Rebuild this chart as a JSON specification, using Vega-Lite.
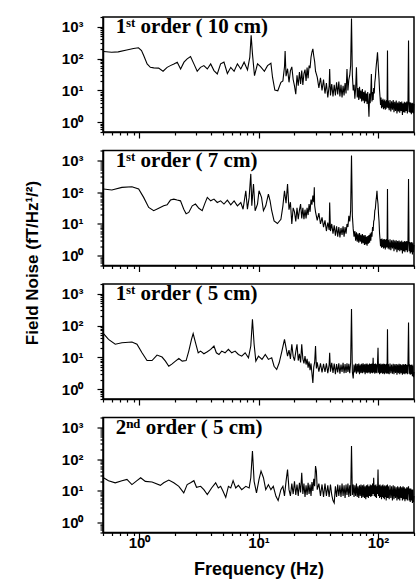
{
"$schema": "https://vega.github.io/schema/vega-lite/v6.json",
"padding": {"left": 22, "top": 9, "right": 3, "bottom": 5},
"background": "white",
"bounds": "flush",
"spacing": 18.5,
"config": {
  "view": {"stroke": "black", "strokeWidth": 1.5},
  "axis": {"domainColor": "black", "domainWidth": 1.5, "tickColor": "black", "tickWidth": 1.2, "labelFont": "Liberation Sans", "labelFontWeight": "bold", "labelFontSize": 15, "labelColor": "black", "titleFont": "Liberation Sans", "titleFontWeight": "bold", "titleColor": "black", "grid": false, "labelOverlap": false, "labelFlush": false},
  "line": {"color": "black", "strokeWidth": 1.1, "clip": true}
},
"datasets": {
"a": [
{"f":0.505,"v":166},{"f":0.59,"v":158},{"f":0.67,"v":162},{"f":0.79,"v":185},{"f":0.9,"v":207},{"f":0.99,"v":217},{"f":1.05,"v":179},{"f":1.095,"v":124},{"f":1.17,"v":68},{"f":1.245,"v":53},{"f":1.33,"v":51},{"f":1.46,"v":50},{"f":1.59,"v":40},{"f":1.72,"v":53},{"f":1.83,"v":60},{"f":1.96,"v":68},{"f":2.09,"v":77},{"f":2.23,"v":47},{"f":2.38,"v":77},{"f":2.53,"v":98},{"f":2.7,"v":116},{"f":2.88,"v":68},{"f":3.07,"v":40},{"f":3.27,"v":53},{"f":3.49,"v":60},{"f":3.73,"v":47},{"f":3.98,"v":68},{"f":4.24,"v":42},{"f":4.52,"v":33},{"f":4.82,"v":68},{"f":5.14,"v":77},{"f":5.49,"v":34},{"f":5.86,"v":53},{"f":6.25,"v":40},{"f":6.66,"v":68},{"f":7.11,"v":47},{"f":7.58,"v":77},{"f":8.09,"v":44},{"f":8.46,"v":110},{"f":8.68,"v":532},{"f":8.9,"v":140},{"f":9.26,"v":29},{"f":9.81,"v":68},{"f":10.4,"v":56},{"f":11.2,"v":40},{"f":11.9,"v":60},{"f":12.7,"v":71},{"f":13.1,"v":26},{"f":13.7,"v":10.3},{"f":14.5,"v":9.8},{"f":15.4,"v":18},
{"f":16,"v":20},{"f":16.5,"v":55},{"f":16.7,"v":171},{"f":17,"v":28},{"f":17.5,"v":48},{"f":18,"v":18},{"f":18.5,"v":42},{"f":19,"v":55},{"f":19.5,"v":22},{"f":20,"v":14},{"f":20.5,"v":7.6},{"f":21,"v":30},{"f":21.5,"v":14},{"f":22,"v":38},{"f":22.5,"v":16},{"f":23,"v":42},{"f":23.5,"v":15},{"f":24,"v":34},{"f":24.5,"v":45},{"f":25,"v":20},{"f":25.5,"v":52},{"f":26,"v":24},{"f":26.5,"v":60},{"f":27,"v":50},{"f":27.5,"v":110},{"f":28,"v":160},{"f":28.5,"v":202},{"f":29,"v":120},{"f":29.5,"v":80},{"f":30,"v":40},{"f":31,"v":26},{"f":32,"v":12},{"f":33,"v":25},{"f":34,"v":10},{"f":35,"v":22},{"f":36,"v":8},{"f":37,"v":17},{"f":38,"v":6},{"f":39,"v":14},{"f":39.4,"v":47},{"f":40,"v":7},{"f":41,"v":16},{"f":42,"v":6.5},{"f":43,"v":15},{"f":44,"v":7},{"f":45,"v":18},{"f":46,"v":7.5},{"f":47,"v":19},{"f":48,"v":6.5},{"f":49,"v":15},{"f":50,"v":6},{"f":51,"v":14},{"f":52,"v":7},{"f":53,"v":17},{"f":54,"v":8},{"f":55,"v":47},{"f":56,"v":10},{"f":57,"v":22},{"f":58,"v":30},{"f":59,"v":60},{"f":60,"v":1790},{"f":61,"v":30},{"f":62,"v":10},{"f":63,"v":15},{"f":64,"v":5.5},{"f":65,"v":12},{"f":66,"v":53},{"f":67,"v":6},{"f":68,"v":12},{"f":69,"v":5},{"f":70,"v":13},{"f":71,"v":5.5},{"f":72,"v":10},{"f":73,"v":4.5},{"f":74,"v":11},{"f":75,"v":4.8},{"f":76,"v":9},{"f":77,"v":4},{"f":78,"v":10},{"f":79,"v":4.5},{"f":80,"v":8},{"f":81,"v":3.8},{"f":82,"v":9},{"f":83,"v":4},{"f":84,"v":1.5},{"f":85,"v":8},{"f":86,"v":4},{"f":87,"v":9},{"f":88,"v":33},{"f":89,"v":4.5},{"f":90,"v":9},{"f":91,"v":5},{"f":92,"v":12},{"f":93,"v":8},{"f":94,"v":18},{"f":95,"v":25},{"f":96,"v":45},{"f":97,"v":70},{"f":98,"v":100},{"f":99,"v":158},{"f":100,"v":80},{"f":101,"v":40},{"f":102,"v":22},{"f":103,"v":10},{"f":104,"v":6},{"f":105,"v":3.5},{"f":106,"v":6},{"f":107,"v":2.8},{"f":108,"v":5},{"f":109,"v":3},{"f":110,"v":5.5},{"f":111,"v":2.6},{"f":112,"v":4.8},{"f":113,"v":2.8},{"f":114,"v":5.2},{"f":115,"v":2.5},{"f":116,"v":4.6},{"f":117,"v":2.7},{"f":118,"v":5},{"f":119,"v":3},{"f":120,"v":179},{"f":121,"v":2.8},{"f":122,"v":4.8},{"f":124,"v":2.4},{"f":126,"v":5},{"f":128,"v":2.2},{"f":130,"v":4.6},{"f":132,"v":2.5},{"f":134,"v":5},{"f":136,"v":2.1},{"f":138,"v":4.4},{"f":140,"v":2.3},{"f":142,"v":4.8},{"f":144,"v":1.9},{"f":146,"v":4.2},{"f":148,"v":2.2},{"f":150,"v":4.6},{"f":152,"v":2},{"f":154,"v":4.3},{"f":156,"v":2.3},{"f":158,"v":4.5},{"f":160,"v":1.7},{"f":162,"v":4},{"f":164,"v":2.1},{"f":166,"v":4.4},{"f":168,"v":2},{"f":170,"v":4.2},{"f":172,"v":2.3},{"f":174,"v":4.5},{"f":176,"v":1.9},{"f":178,"v":3.9},{"f":180,"v":370},{"f":182,"v":2.1},{"f":184,"v":4.3},{"f":186,"v":2},{"f":188,"v":4.2},{"f":190,"v":1.8},{"f":192,"v":4},{"f":194,"v":2},{"f":196,"v":4.1},{"f":198,"v":1.9},{"f":200,"v":3.8}
],
"b": [
{"f":0.505,"v":124},{"f":0.593,"v":116},{"f":0.72,"v":140},{"f":0.873,"v":147},{"f":0.994,"v":124},{"f":1.094,"v":68},{"f":1.206,"v":33},{"f":1.328,"v":26},{"f":1.463,"v":31},{"f":1.61,"v":37},{"f":1.72,"v":40},{"f":1.834,"v":56},{"f":1.956,"v":60},{"f":2.086,"v":56},{"f":2.225,"v":53},{"f":2.37,"v":29},{"f":2.48,"v":21},{"f":2.61,"v":23},{"f":2.79,"v":37},{"f":2.97,"v":42},{"f":3.17,"v":31},{"f":3.38,"v":26},{"f":3.56,"v":44},{"f":3.73,"v":68},{"f":3.98,"v":53},{"f":4.24,"v":60},{"f":4.52,"v":47},{"f":4.82,"v":53},{"f":5.14,"v":42},{"f":5.49,"v":56},{"f":5.86,"v":40},{"f":6.25,"v":53},{"f":6.66,"v":37},{"f":7.11,"v":47},{"f":7.43,"v":29},{"f":7.83,"v":110},{"f":8.08,"v":29},{"f":8.35,"v":68},{"f":8.62,"v":370},{"f":8.79,"v":37},{"f":9.08,"v":179},{"f":9.37,"v":26},{"f":9.81,"v":42},{"f":10.1,"v":110},{"f":10.6,"v":68},{"f":11,"v":26},{"f":11.5,"v":37},{"f":12.1,"v":86},{"f":12.5,"v":53},{"f":12.9,"v":26},{"f":13.5,"v":12.4},{"f":14.4,"v":10.3},{"f":15.4,"v":14},
{"f":16,"v":37},{"f":16.5,"v":110},{"f":17,"v":45},{"f":17.5,"v":179},{"f":18,"v":28},{"f":18.5,"v":48},{"f":19,"v":10},{"f":19.5,"v":32},{"f":20,"v":24},{"f":20.5,"v":12},{"f":21,"v":32},{"f":21.5,"v":14},{"f":22,"v":27},{"f":22.5,"v":42},{"f":23,"v":15},{"f":23.5,"v":32},{"f":24,"v":14},{"f":24.5,"v":28},{"f":25,"v":15},{"f":25.5,"v":32},{"f":26,"v":19},{"f":26.5,"v":42},{"f":27,"v":24},{"f":27.5,"v":58},{"f":28,"v":40},{"f":28.5,"v":77},{"f":29,"v":48},{"f":29.3,"v":140},{"f":29.5,"v":38},{"f":30,"v":24},{"f":31,"v":13},{"f":32,"v":22},{"f":33,"v":10},{"f":34,"v":16},{"f":35,"v":8},{"f":36,"v":13},{"f":37,"v":6},{"f":38,"v":11},{"f":39,"v":6.5},{"f":39.4,"v":47},{"f":40,"v":6},{"f":41,"v":10},{"f":42,"v":5},{"f":43,"v":9},{"f":44,"v":4.3},{"f":45,"v":8.5},{"f":46,"v":4},{"f":47,"v":8},{"f":48,"v":3.8},{"f":49,"v":7.5},{"f":50,"v":4.5},{"f":51,"v":8.5},{"f":52,"v":4},{"f":53,"v":8},{"f":54,"v":5},{"f":55,"v":10},{"f":56,"v":8},{"f":57,"v":18},{"f":58,"v":12},{"f":59,"v":26},{"f":60,"v":1400},{"f":61,"v":18},{"f":62,"v":7},{"f":63,"v":4},{"f":64,"v":6},{"f":65,"v":3},{"f":66,"v":5.5},{"f":67,"v":2.8},{"f":68,"v":5},{"f":69,"v":2.6},{"f":70,"v":5.2},{"f":71,"v":2.8},{"f":72,"v":4.6},{"f":73,"v":2.4},{"f":74,"v":4.8},{"f":75,"v":2.5},{"f":76,"v":4.4},{"f":77,"v":2.2},{"f":78,"v":4.5},{"f":79,"v":2.3},{"f":80,"v":4},{"f":81,"v":2.1},{"f":82,"v":4.2},{"f":83,"v":2.4},{"f":84,"v":4.5},{"f":85,"v":2.6},{"f":86,"v":5},{"f":87,"v":3},{"f":88,"v":5.5},{"f":89,"v":4},{"f":90,"v":8},{"f":91,"v":6},{"f":92,"v":12},{"f":93,"v":14},{"f":94,"v":26},{"f":95,"v":30},{"f":96,"v":50},{"f":97,"v":70},{"f":98,"v":110},{"f":99,"v":60},{"f":100,"v":42},{"f":101,"v":20},{"f":102,"v":12},{"f":103,"v":5},{"f":104,"v":3.2},{"f":105,"v":2},{"f":106,"v":3.4},{"f":107,"v":1.8},{"f":108,"v":3.5},{"f":109,"v":1.9},{"f":110,"v":3.2},{"f":111,"v":1.7},{"f":112,"v":3.4},{"f":113,"v":1.8},{"f":114,"v":3.3},{"f":115,"v":1.6},{"f":116,"v":3.2},{"f":117,"v":1.8},{"f":118,"v":3.4},{"f":119,"v":1.9},{"f":120,"v":124},{"f":121,"v":1.7},{"f":122,"v":3.2},{"f":124,"v":1.6},{"f":126,"v":3.3},{"f":128,"v":1.5},{"f":130,"v":3.1},{"f":132,"v":1.7},{"f":134,"v":3.2},{"f":136,"v":1.4},{"f":138,"v":3},{"f":140,"v":1.6},{"f":142,"v":3.1},{"f":144,"v":1.3},{"f":146,"v":2.9},{"f":148,"v":1.5},{"f":150,"v":3},{"f":152,"v":1.4},{"f":154,"v":2.8},{"f":156,"v":1.5},{"f":158,"v":3},{"f":160,"v":1.2},{"f":162,"v":2.7},{"f":164,"v":1.4},{"f":166,"v":2.9},{"f":168,"v":1.3},{"f":170,"v":2.8},{"f":172,"v":1.5},{"f":174,"v":2.9},{"f":176,"v":1.3},{"f":178,"v":2.6},{"f":180,"v":258},{"f":182,"v":1.4},{"f":184,"v":2.7},{"f":186,"v":1.2},{"f":188,"v":2.6},{"f":190,"v":1.3},{"f":192,"v":2.7},{"f":194,"v":1.1},{"f":196,"v":2.5},{"f":198,"v":1.3},{"f":200,"v":2.2}
],
"c": [
{"f":0.505,"v":56},{"f":0.556,"v":37},{"f":0.633,"v":26},{"f":0.72,"v":29},{"f":0.873,"v":30.5},{"f":0.962,"v":26},{"f":1.06,"v":14},{"f":1.167,"v":8},{"f":1.286,"v":8},{"f":1.416,"v":11.9},{"f":1.56,"v":10.3},{"f":1.665,"v":7.7},{"f":1.776,"v":5.3},{"f":1.894,"v":6.3},{"f":2.02,"v":7.7},{"f":2.155,"v":9.3},{"f":2.3,"v":7.7},{"f":2.48,"v":8},{"f":2.61,"v":15.8},{"f":2.75,"v":37},{"f":2.84,"v":56},{"f":2.97,"v":29},{"f":3.13,"v":14},{"f":3.28,"v":15.8},{"f":3.49,"v":13.1},{"f":3.73,"v":15.1},{"f":3.98,"v":17.9},{"f":4.24,"v":22.8},{"f":4.44,"v":14},{"f":4.67,"v":12.4},{"f":4.92,"v":15.8},{"f":5.25,"v":14},{"f":5.6,"v":17.9},{"f":5.97,"v":14},{"f":6.37,"v":15.8},{"f":6.79,"v":12.4},{"f":7.24,"v":11},{"f":7.73,"v":14},{"f":8.24,"v":9.8},{"f":8.62,"v":22.8},{"f":8.9,"v":158},{"f":9.19,"v":26},{"f":9.5,"v":7.7},{"f":10,"v":11},{"f":10.7,"v":8.7},{"f":11.4,"v":12.4},{"f":12.1,"v":8.7},{"f":12.9,"v":9.8},{"f":13.5,"v":5.3},{"f":14.2,"v":4.2},{"f":14.9,"v":6.8},{"f":15.7,"v":15.8},
{"f":16,"v":22},{"f":16.5,"v":37},{"f":17,"v":20},{"f":17.5,"v":11},{"f":18,"v":17},{"f":18.5,"v":9},{"f":19,"v":26},{"f":19.5,"v":11},{"f":20,"v":8},{"f":20.5,"v":15},{"f":21,"v":26},{"f":21.5,"v":8},{"f":22,"v":13},{"f":22.5,"v":7},{"f":23,"v":26},{"f":23.5,"v":9},{"f":24,"v":6.5},{"f":24.5,"v":11},{"f":25,"v":6},{"f":25.5,"v":9},{"f":26,"v":4.8},{"f":26.5,"v":7.5},{"f":27,"v":4},{"f":27.5,"v":6.5},{"f":28,"v":3.2},{"f":28.5,"v":1.6},{"f":29,"v":5},{"f":29.5,"v":7},{"f":30,"v":23},{"f":30.5,"v":4.5},{"f":31,"v":7},{"f":32,"v":3.6},{"f":33,"v":6.5},{"f":34,"v":3.4},{"f":35,"v":6.3},{"f":36,"v":3.5},{"f":37,"v":6.5},{"f":38,"v":3.2},{"f":39,"v":6},{"f":39.4,"v":14},{"f":40,"v":3.6},{"f":41,"v":6.8},{"f":42,"v":3.3},{"f":43,"v":6.4},{"f":44,"v":3},{"f":45,"v":6.2},{"f":46,"v":3.4},{"f":47,"v":6.6},{"f":48,"v":3.1},{"f":49,"v":6},{"f":50,"v":3.5},{"f":51,"v":6.8},{"f":52,"v":3.2},{"f":53,"v":6.2},{"f":54,"v":3.3},{"f":55,"v":6.6},{"f":56,"v":3.5},{"f":57,"v":6.3},{"f":58,"v":3.2},{"f":59,"v":6.8},{"f":60,"v":328},{"f":61,"v":3.5},{"f":62,"v":2.2},{"f":63,"v":6},{"f":64,"v":3.4},{"f":65,"v":6.4},{"f":66,"v":3.1},{"f":67,"v":6.2},{"f":68,"v":3.4},{"f":69,"v":6.5},{"f":70,"v":3},{"f":71,"v":6},{"f":72,"v":3.3},{"f":73,"v":6.3},{"f":74,"v":3.2},{"f":75,"v":6.6},{"f":76,"v":3.4},{"f":77,"v":6.1},{"f":78,"v":3},{"f":79,"v":6.3},{"f":80,"v":3.3},{"f":81,"v":6.5},{"f":82,"v":3.2},{"f":83,"v":6},{"f":84,"v":3.4},{"f":85,"v":6.4},{"f":86,"v":3.1},{"f":87,"v":6.2},{"f":88,"v":3.3},{"f":89,"v":6.5},{"f":90,"v":3.2},{"f":91,"v":9.8},{"f":92,"v":3.4},{"f":93,"v":6.2},{"f":94,"v":3.1},{"f":95,"v":6.4},{"f":96,"v":3.3},{"f":97,"v":6.1},{"f":98,"v":3.2},{"f":99,"v":6.5},{"f":100,"v":20},{"f":101,"v":3.3},{"f":102,"v":6.2},{"f":103,"v":3},{"f":104,"v":6.4},{"f":105,"v":3.2},{"f":106,"v":6},{"f":107,"v":3.3},{"f":108,"v":6.3},{"f":109,"v":3.1},{"f":110,"v":6.1},{"f":111,"v":3.2},{"f":112,"v":6.4},{"f":113,"v":3},{"f":114,"v":6.2},{"f":115,"v":3.3},{"f":116,"v":6},{"f":117,"v":3.1},{"f":118,"v":6.3},{"f":119,"v":3.2},{"f":120,"v":77},{"f":121,"v":3.1},{"f":122,"v":6.2},{"f":124,"v":3},{"f":126,"v":6.4},{"f":128,"v":3.2},{"f":130,"v":6},{"f":132,"v":3.1},{"f":134,"v":6.3},{"f":136,"v":3},{"f":138,"v":6.1},{"f":140,"v":3.3},{"f":142,"v":6.2},{"f":144,"v":2.9},{"f":146,"v":6},{"f":148,"v":3.2},{"f":150,"v":6.3},{"f":152,"v":3},{"f":154,"v":6.1},{"f":156,"v":3.2},{"f":158,"v":5.9},{"f":160,"v":2.9},{"f":162,"v":6.2},{"f":164,"v":3.1},{"f":166,"v":6},{"f":168,"v":3},{"f":170,"v":6.2},{"f":172,"v":3.2},{"f":174,"v":5.9},{"f":176,"v":3},{"f":178,"v":6},{"f":180,"v":124},{"f":182,"v":3.1},{"f":184,"v":6.1},{"f":186,"v":2.9},{"f":188,"v":5.8},{"f":190,"v":3},{"f":192,"v":6},{"f":194,"v":2.6},{"f":196,"v":5.6},{"f":198,"v":2.4},{"f":200,"v":3.5}
],
"d": [
{"f":0.505,"v":26},{"f":0.556,"v":21},{"f":0.633,"v":18},{"f":0.72,"v":21},{"f":0.793,"v":23},{"f":0.873,"v":15.8},{"f":0.962,"v":21},{"f":1.033,"v":26},{"f":1.13,"v":20},{"f":1.286,"v":19},{"f":1.51,"v":15},{"f":1.61,"v":18},{"f":1.776,"v":22},{"f":1.956,"v":18},{"f":2.155,"v":14},{"f":2.37,"v":8.7},{"f":2.53,"v":15.8},{"f":2.7,"v":18},{"f":2.88,"v":21},{"f":3.03,"v":13},{"f":3.28,"v":14},{"f":3.49,"v":11},{"f":3.73,"v":7.7},{"f":4.05,"v":12.4},{"f":4.38,"v":18},{"f":4.61,"v":12.4},{"f":4.82,"v":14},{"f":5.05,"v":9.8},{"f":5.32,"v":6.3},{"f":5.6,"v":14},{"f":5.86,"v":12.4},{"f":6.13,"v":21},{"f":6.45,"v":12.4},{"f":6.79,"v":15},{"f":7.24,"v":11},{"f":7.83,"v":14},{"f":8.35,"v":12.4},{"f":8.62,"v":26},{"f":8.9,"v":179},{"f":9.19,"v":20},{"f":9.62,"v":8.7},{"f":10.1,"v":23},{"f":10.5,"v":42},{"f":11,"v":26},{"f":11.5,"v":11},{"f":12.1,"v":15.8},{"f":12.7,"v":11},{"f":13.3,"v":14},{"f":14,"v":6.8},{"f":14.6,"v":5},{"f":15.4,"v":11},
{"f":16,"v":14},{"f":16.5,"v":7},{"f":17,"v":20},{"f":17.5,"v":47},{"f":18,"v":11},{"f":18.5,"v":7},{"f":19,"v":17},{"f":19.5,"v":8},{"f":20,"v":20},{"f":20.5,"v":7.5},{"f":21,"v":16},{"f":21.5,"v":7},{"f":22,"v":18},{"f":22.5,"v":9},{"f":23,"v":37},{"f":23.5,"v":8},{"f":24,"v":17},{"f":24.5,"v":6.5},{"f":25,"v":15},{"f":25.5,"v":7.5},{"f":26,"v":18},{"f":26.5,"v":8},{"f":27,"v":16},{"f":27.5,"v":7},{"f":28,"v":19},{"f":28.5,"v":10},{"f":29,"v":24},{"f":29.5,"v":14},{"f":30,"v":60},{"f":30.5,"v":42},{"f":31,"v":11},{"f":32,"v":17},{"f":33,"v":7},{"f":34,"v":16},{"f":35,"v":6.5},{"f":36,"v":17},{"f":37,"v":7},{"f":38,"v":15},{"f":39,"v":6.5},{"f":40,"v":16},{"f":41,"v":7.5},{"f":42,"v":5},{"f":43,"v":4.2},{"f":44,"v":14},{"f":45,"v":6.5},{"f":46,"v":16},{"f":47,"v":7},{"f":48,"v":15},{"f":49,"v":6.5},{"f":50,"v":17},{"f":51,"v":7},{"f":52,"v":15},{"f":53,"v":6},{"f":54,"v":16},{"f":55,"v":7.5},{"f":56,"v":17},{"f":57,"v":6.5},{"f":58,"v":15},{"f":59,"v":7},{"f":60,"v":258},{"f":61,"v":7.5},{"f":62,"v":16},{"f":63,"v":6.5},{"f":64,"v":15},{"f":65,"v":7},{"f":66,"v":17},{"f":67,"v":6.5},{"f":68,"v":14},{"f":69,"v":6},{"f":70,"v":15},{"f":71,"v":7},{"f":72,"v":16},{"f":73,"v":6},{"f":74,"v":15},{"f":75,"v":6.5},{"f":76,"v":16},{"f":77,"v":6},{"f":78,"v":14},{"f":79,"v":5.5},{"f":80,"v":15},{"f":81,"v":6.5},{"f":82,"v":16},{"f":83,"v":6},{"f":84,"v":14},{"f":85,"v":7},{"f":86,"v":16},{"f":87,"v":6.5},{"f":88,"v":15},{"f":89,"v":7},{"f":90,"v":17},{"f":91,"v":8},{"f":92,"v":26},{"f":93,"v":7},{"f":94,"v":15},{"f":95,"v":6.5},{"f":96,"v":16},{"f":97,"v":6},{"f":98,"v":14},{"f":99,"v":8},{"f":100,"v":47},{"f":101,"v":7},{"f":102,"v":15},{"f":103,"v":6},{"f":104,"v":16},{"f":105,"v":6.5},{"f":106,"v":14},{"f":107,"v":5.5},{"f":108,"v":15},{"f":109,"v":6.5},{"f":110,"v":16},{"f":111,"v":6},{"f":112,"v":14},{"f":113,"v":5.5},{"f":114,"v":15},{"f":115,"v":6.5},{"f":116,"v":14},{"f":117,"v":5},{"f":118,"v":15},{"f":119,"v":6},{"f":120,"v":16},{"f":121,"v":6},{"f":122,"v":14},{"f":124,"v":5.5},{"f":126,"v":15},{"f":128,"v":6},{"f":130,"v":14},{"f":132,"v":5},{"f":134,"v":15},{"f":136,"v":5.5},{"f":138,"v":14},{"f":140,"v":6},{"f":142,"v":13},{"f":144,"v":5},{"f":146,"v":14},{"f":148,"v":5.5},{"f":150,"v":13},{"f":152,"v":5},{"f":154,"v":14},{"f":156,"v":6},{"f":158,"v":13},{"f":160,"v":5},{"f":162,"v":14},{"f":164,"v":5.5},{"f":166,"v":13},{"f":168,"v":4.8},{"f":170,"v":12},{"f":172,"v":5.5},{"f":174,"v":13},{"f":176,"v":5},{"f":178,"v":12},{"f":180,"v":14},{"f":182,"v":5},{"f":184,"v":12},{"f":186,"v":4.5},{"f":188,"v":12},{"f":190,"v":5},{"f":192,"v":11},{"f":194,"v":4.2},{"f":196,"v":11},{"f":198,"v":4.5},{"f":200,"v":7}
]
},
"vconcat": [
{
  "width": 311, "height": 115,
  "layer": [
    {"data": {"name": "a"}, "mark": {"type": "line"},
     "encoding": {
      "x": {"field": "f", "type": "quantitative", "scale": {"type": "log", "domain": [0.5, 200], "nice": false},
        "axis": {"values": [0.5,0.6,0.7,0.8,0.9,1,2,3,4,5,6,7,8,9,10,20,30,40,50,60,70,80,90,100,200], "labels": false, "title": null,
          "tickSize": {"condition": {"test": "abs(log(datum.value)/LN10 - round(log(datum.value)/LN10)) < 0.001", "value": 6}, "value": 3}}},
      "y": {"field": "v", "type": "quantitative", "scale": {"type": "log", "domain": [0.5, 2000], "nice": false},
        "axis": {"values": [0.5,0.6,0.7,0.8,0.9,1,2,3,4,5,6,7,8,9,10,20,30,40,50,60,70,80,90,100,200,300,400,500,600,700,800,900,1000,2000], "title": null, "labelPadding": 14,
          "labelExpr": "abs(log(datum.value)/LN10 - round(log(datum.value)/LN10)) < 0.001 ? '10' + ['\u2070','\u00b9','\u00b2','\u00b3'][round(log(datum.value)/LN10)] : ''",
          "tickSize": {"condition": {"test": "abs(log(datum.value)/LN10 - round(log(datum.value)/LN10)) < 0.001", "value": 6}, "value": 3}}}
     }},
    {"data": {"values": [{"label": "1\u02e2\u1d57 order ( 10 cm)"}]}, "mark": {"type": "text", "font": "Liberation Serif", "fontSize": 21, "fontWeight": "bold", "color": "black", "align": "left", "baseline": "alphabetic"},
     "encoding": {"x": {"datum": 0.64, "type": "quantitative"}, "y": {"datum": 620, "type": "quantitative"}, "text": {"field": "label"}}}
  ]
},
{
  "width": 311, "height": 115,
  "layer": [
    {"data": {"name": "b"}, "mark": {"type": "line"},
     "encoding": {
      "x": {"field": "f", "type": "quantitative", "scale": {"type": "log", "domain": [0.5, 200], "nice": false},
        "axis": {"values": [0.5,0.6,0.7,0.8,0.9,1,2,3,4,5,6,7,8,9,10,20,30,40,50,60,70,80,90,100,200], "labels": false, "title": null,
          "tickSize": {"condition": {"test": "abs(log(datum.value)/LN10 - round(log(datum.value)/LN10)) < 0.001", "value": 6}, "value": 3}}},
      "y": {"field": "v", "type": "quantitative", "scale": {"type": "log", "domain": [0.5, 2000], "nice": false},
        "axis": {"values": [0.5,0.6,0.7,0.8,0.9,1,2,3,4,5,6,7,8,9,10,20,30,40,50,60,70,80,90,100,200,300,400,500,600,700,800,900,1000,2000], "labelPadding": 14,
          "title": "Field Noise (fT/Hz\u00b9/\u00b2)", "titleFontSize": 17, "titleX": -71, "titleY": 112, "titleAngle": -90, "titleBaseline": "middle", "titleAlign": "center",
          "labelExpr": "abs(log(datum.value)/LN10 - round(log(datum.value)/LN10)) < 0.001 ? '10' + ['\u2070','\u00b9','\u00b2','\u00b3'][round(log(datum.value)/LN10)] : ''",
          "tickSize": {"condition": {"test": "abs(log(datum.value)/LN10 - round(log(datum.value)/LN10)) < 0.001", "value": 6}, "value": 3}}}
     }},
    {"data": {"values": [{"label": "1\u02e2\u1d57 order ( 7 cm)"}]}, "mark": {"type": "text", "font": "Liberation Serif", "fontSize": 21, "fontWeight": "bold", "color": "black", "align": "left", "baseline": "alphabetic"},
     "encoding": {"x": {"datum": 0.64, "type": "quantitative"}, "y": {"datum": 620, "type": "quantitative"}, "text": {"field": "label"}}}
  ]
},
{
  "width": 311, "height": 115,
  "layer": [
    {"data": {"name": "c"}, "mark": {"type": "line"},
     "encoding": {
      "x": {"field": "f", "type": "quantitative", "scale": {"type": "log", "domain": [0.5, 200], "nice": false},
        "axis": {"values": [0.5,0.6,0.7,0.8,0.9,1,2,3,4,5,6,7,8,9,10,20,30,40,50,60,70,80,90,100,200], "labels": false, "title": null,
          "tickSize": {"condition": {"test": "abs(log(datum.value)/LN10 - round(log(datum.value)/LN10)) < 0.001", "value": 6}, "value": 3}}},
      "y": {"field": "v", "type": "quantitative", "scale": {"type": "log", "domain": [0.5, 2000], "nice": false},
        "axis": {"values": [0.5,0.6,0.7,0.8,0.9,1,2,3,4,5,6,7,8,9,10,20,30,40,50,60,70,80,90,100,200,300,400,500,600,700,800,900,1000,2000], "title": null, "labelPadding": 14,
          "labelExpr": "abs(log(datum.value)/LN10 - round(log(datum.value)/LN10)) < 0.001 ? '10' + ['\u2070','\u00b9','\u00b2','\u00b3'][round(log(datum.value)/LN10)] : ''",
          "tickSize": {"condition": {"test": "abs(log(datum.value)/LN10 - round(log(datum.value)/LN10)) < 0.001", "value": 6}, "value": 3}}}
     }},
    {"data": {"values": [{"label": "1\u02e2\u1d57 order ( 5 cm)"}]}, "mark": {"type": "text", "font": "Liberation Serif", "fontSize": 21, "fontWeight": "bold", "color": "black", "align": "left", "baseline": "alphabetic"},
     "encoding": {"x": {"datum": 0.64, "type": "quantitative"}, "y": {"datum": 620, "type": "quantitative"}, "text": {"field": "label"}}}
  ]
},
{
  "width": 311, "height": 115,
  "layer": [
    {"data": {"name": "d"}, "mark": {"type": "line"},
     "encoding": {
      "x": {"field": "f", "type": "quantitative", "scale": {"type": "log", "domain": [0.5, 200], "nice": false},
        "axis": {"values": [0.5,0.6,0.7,0.8,0.9,1,2,3,4,5,6,7,8,9,10,20,30,40,50,60,70,80,90,100,200], "title": "Frequency (Hz)", "titleFontSize": 18, "titlePadding": 10, "labelPadding": -3,
          "labelExpr": "abs(log(datum.value)/LN10 - round(log(datum.value)/LN10)) < 0.001 ? '10' + ['\u2070','\u00b9','\u00b2','\u00b3'][round(log(datum.value)/LN10)] : ''",
          "tickSize": {"condition": {"test": "abs(log(datum.value)/LN10 - round(log(datum.value)/LN10)) < 0.001", "value": 6}, "value": 3}}},
      "y": {"field": "v", "type": "quantitative", "scale": {"type": "log", "domain": [0.5, 2000], "nice": false},
        "axis": {"values": [0.5,0.6,0.7,0.8,0.9,1,2,3,4,5,6,7,8,9,10,20,30,40,50,60,70,80,90,100,200,300,400,500,600,700,800,900,1000,2000], "title": null, "labelPadding": 14,
          "labelExpr": "abs(log(datum.value)/LN10 - round(log(datum.value)/LN10)) < 0.001 ? '10' + ['\u2070','\u00b9','\u00b2','\u00b3'][round(log(datum.value)/LN10)] : ''",
          "tickSize": {"condition": {"test": "abs(log(datum.value)/LN10 - round(log(datum.value)/LN10)) < 0.001", "value": 6}, "value": 3}}}
     }},
    {"data": {"values": [{"label": "2\u207f\u1d48 order ( 5 cm)"}]}, "mark": {"type": "text", "font": "Liberation Serif", "fontSize": 21, "fontWeight": "bold", "color": "black", "align": "left", "baseline": "alphabetic"},
     "encoding": {"x": {"datum": 0.64, "type": "quantitative"}, "y": {"datum": 620, "type": "quantitative"}, "text": {"field": "label"}}}
  ]
}
]
}
